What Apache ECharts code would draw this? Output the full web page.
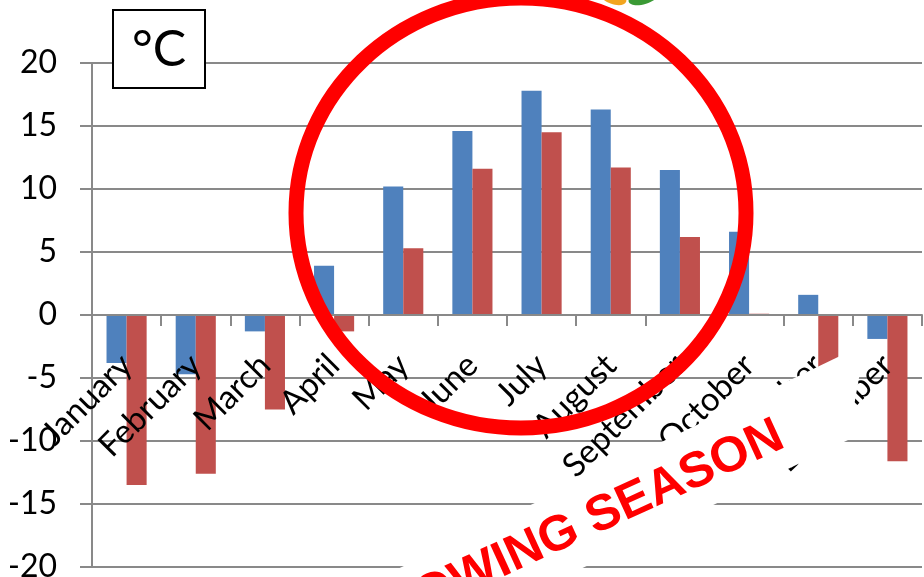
<!DOCTYPE html>
<html>
<head>
<meta charset="utf-8">
<script src="https://cdn.jsdelivr.net/npm/echarts@6/dist/echarts.min.js"></script>
<style>
  html, body { margin: 0; padding: 0; background: #fff; }
  #chart { width: 924px; height: 577px; }
</style>
</head>
<body>
<div id="chart"></div>
<script>
var months = ['January', 'February', 'March', 'April', 'May', 'June', 'July',
  'August', 'September', 'October', 'November', 'December'];
var meanTemp = [-3.8, -4.7, -1.3, 3.9, 10.2, 14.6, 17.8, 16.3, 11.5, 6.6, 1.6, -1.9];
var minTemp = [-13.5, -12.6, -7.5, -1.3, 5.3, 11.6, 14.5, 11.7, 6.2, 0.1, -5.0, -11.6];
var yTicks = [-20, -15, -10, -5, 0, 5, 10, 15, 20];

var chart = echarts.init(document.getElementById('chart'));
var gridColor = '#898989';
var font = 'Lato';

// plot area: top 63, bottom 567 -> zero line sits 252px above the bottom
var option = {
  animation: false,
  backgroundColor: '#fff',
  grid: { left: 92, right: 2, top: 63, bottom: 10, containLabel: false, outerBoundsMode: 'none' },
  xAxis: {
    type: 'category',
    data: months,
    position: 'bottom',
    offset: -252,
    z: 5,
    axisLine: { onZero: false, lineStyle: { color: gridColor, width: 2 } },
    axisTick: { show: true, length: 11, lineStyle: { color: gridColor, width: 2 } },
    axisLabel: {
      interval: 0,
      rotate: 45,
      margin: 45,
      padding: [12, 0, 0, 0],
      color: '#000',
      fontFamily: font,
      fontSize: 33,
      hideOverlap: false
    },
    splitLine: { show: false }
  },
  yAxis: {
    type: 'value',
    min: yTicks[0],
    max: yTicks[yTicks.length - 1],
    interval: 5,
    axisLine: { show: true, lineStyle: { color: gridColor, width: 2 } },
    axisTick: { show: true, length: 12, lineStyle: { color: gridColor, width: 2 } },
    axisLabel: {
      margin: 35,
      color: '#000',
      fontFamily: font,
      fontSize: 32
    },
    splitLine: { show: true, lineStyle: { color: gridColor, width: 2 } }
  },
  series: [
    {
      name: 'Mean',
      type: 'bar',
      data: meanTemp,
      barGap: '0%',
      barCategoryGap: '42%',
      itemStyle: { color: '#4f81bd' }
    },
    {
      name: 'Min',
      type: 'bar',
      data: minTemp,
      itemStyle: { color: '#c0504d' }
    }
  ],
  graphic: [
    // logo remnants at the top edge
    {
      type: 'ellipse', z: 100,
      shape: { cx: 0, cy: 0, rx: 14, ry: 7 },
      x: 613, y: -3, rotation: -0.35,
      style: { fill: '#f2a51f' }
    },
    {
      type: 'ellipse', z: 100,
      shape: { cx: 0, cy: 0, rx: 16, ry: 7 },
      x: 644, y: -3, rotation: 0.3,
      style: { fill: '#3a9a35' }
    },
    // red circle
    {
      type: 'ellipse', z: 100,
      shape: { cx: 521, cy: 213, rx: 225, ry: 215 },
      style: { fill: 'none', stroke: '#ff0000', lineWidth: 15 }
    },
    // white banner behind the text
    {
      type: 'polygon', z: 101,
      shape: { points: [[865, 344], [848, 440], [400, 656], [300, 616]] },
      style: { fill: '#fff' }
    },
    {
      type: 'text', z: 102,
      x: 781, y: 434, rotation: 0.43,
      style: {
        text: 'GROWING SEASON',
        fill: '#ff0000',
        font: 'bold 50px "Liberation Sans", Arial, sans-serif',
        align: 'right',
        verticalAlign: 'middle'
      }
    },
    // unit box
    {
      type: 'rect', z: 100,
      shape: { x: 113, y: 10, width: 92, height: 78 },
      style: { fill: '#fff', stroke: '#000', lineWidth: 2 }
    },
    {
      type: 'text', z: 101,
      x: 159, y: 50,
      style: {
        text: '°C',
        fill: '#000',
        font: '50px Lato',
        align: 'center',
        verticalAlign: 'middle'
      }
    }
  ]
};

chart.setOption(option);
</script>
</body>
</html>
